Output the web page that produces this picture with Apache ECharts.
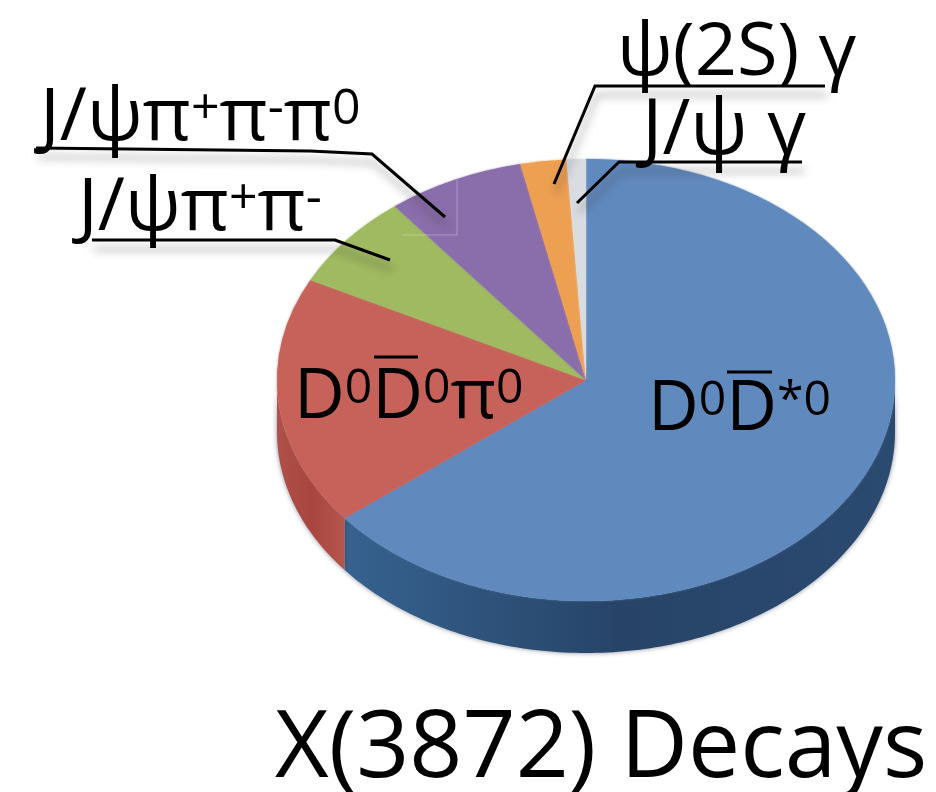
<!DOCTYPE html>
<html><head><meta charset="utf-8">
<style>html,body{margin:0;padding:0;background:#fff}#c{width:936px;height:792px}</style>
<script src="https://cdn.jsdelivr.net/npm/echarts@6/dist/echarts.min.js"></script>
</head><body><div id="c"></div>
<script>
const categories = ["D0D*0","D0D0π0","J/ψπ+π-","J/ψπ+π-π0","ψ(2S)γ","J/ψγ"];
const values = [64.2,18.2,6.9,7.2,2.4,1.0];
const topColors = ["#6089bd","#c7625a","#9fba60","#8a6eab","#eea052","#d9dde2"];
const wallStops = [
  ["#36628f","#274468","#2b4a70"],
  ["#b0504a","#a8453e","#b4564e"],
  ["#7d9648","#7d9648","#7d9648"],
  ["#6a5288","#6a5288","#6a5288"],
  ["#bd7a3a","#bd7a3a","#bd7a3a"],
  ["#aaaaaa","#aaaaaa","#aaaaaa"]
];
const CX=586, CY=380, RX=309, RY=221, DEPTH=52;
const total = values.reduce((a,b)=>a+b,0);
const deg = v => v/total*360;
function range(i){let s=0;for(let k=0;k<i;k++)s+=deg(values[k]);return [s,s+deg(values[i])];}
function pt(a,dy){const r=a*Math.PI/180;return [CX+RX*Math.sin(r),CY-RY*Math.cos(r)+dy];}

function renderTop(params,api){
  const i=api.value(0);const [a,b]=range(i);
  return {type:'sector',x:CX,y:CY,scaleY:RY/RX,
    shape:{cx:0,cy:0,r:RX,r0:0,startAngle:(a-90)*Math.PI/180,endAngle:(b-90)*Math.PI/180},
    style:{fill:topColors[i],shadowBlur:2,shadowColor:topColors[i]}};
}
function renderWall(params,api){
  const i=api.value(0);let [a,b]=range(i);
  a=Math.max(a,90);b=Math.min(b,270);
  if(b<=a)return {type:'group',children:[]};
  const upper=[],lower=[];
  for(let t=a;t<=b+0.001;t+=1){upper.push(pt(t,0));lower.push(pt(t,DEPTH));}
  upper.push(pt(b,0));lower.push(pt(b,DEPTH));
  const pts=upper.concat(lower.reverse());
  const c=wallStops[i];
  return {type:'polygon',shape:{points:pts},
    style:{fill:new echarts.graphic.LinearGradient(0,0,1,0,[{offset:0,color:c[0]},{offset:.5,color:c[1]},{offset:1,color:c[2]}],false),
    shadowBlur:5,shadowColor:'rgba(40,50,70,.55)'}};
}

const F='"Open Sans"';
function txt(x,y,text,size,sup,pad){
  return {type:'text',z:20,x:x,y:y,style:{text:text,fill:'#000',
    font:size+'px '+F,
    rich:{b:{fontFamily:F,fontSize:size,lineHeight:size*1.1,fill:'#000',verticalAlign:'bottom'},
          s:{fontFamily:F,fontSize:sup,lineHeight:sup,padding:[pad,0,0,0],fill:'#000',verticalAlign:'top'}}}};
}
function leader(pts){
  return {type:'polyline',z:15,shape:{points:pts},
    style:{stroke:'#000',lineWidth:3,fill:null,shadowBlur:9,shadowOffsetY:9,shadowOffsetX:2,shadowColor:'rgba(60,50,50,.45)'}};
}
function bar(x1,x2,y){
  return {type:'line',z:21,shape:{x1:x1,y1:y,x2:x2,y2:y},style:{stroke:'#000',lineWidth:3}};
}
const graphics=[
  {type:'polyline',z:12,shape:{points:[[457,180],[457,235],[402,235]]},style:{stroke:'rgba(255,255,255,.3)',lineWidth:1,fill:null}},
  leader([[36,148],[310,151],[372,154],[445,217]]),
  leader([[92,240],[335,240],[390,260]]),
  leader([[825,86],[595,86],[554,184]]),
  leader([[802,162],[619,162],[577,203]]),
  txt(40,75,'{b|J/ψπ}{s|+}{b|π}{s|-}{b|π}{s|0}',74,50,10),
  txt(78,165,'{b|J/ψπ}{s|+}{b|π}{s|-}',74,50,10),
  txt(617,10,'{b|ψ(2S) γ}',74,50,10),
  txt(642,87,'{b|J/ψ γ}',76,50,10),
  txt(294,356,'{b|D}{s|0}{b|D}{s|0}{b|π}{s|0}',70,48,9),
  txt(648,368,'{b|D}{s|0}{b|D}{s|*0}',70,48,9),
  bar(374,418,357),
  bar(727,772,372),
  {type:'text',z:20,x:275,y:704,style:{text:'X(3872) Decays',fill:'#000',font:'93px '+F}}
];
const chart=echarts.init(document.getElementById('c'),null,{renderer:'canvas'});
chart.setOption({
  animation:false,
  backgroundColor:'#fff',
  series:[
    {type:'custom',name:'wall',coordinateSystem:'none',renderItem:renderWall,silent:true,z:1,
     data:values.map((v,i)=>[i,v,categories[i]])},
    {type:'custom',name:'X(3872) Decays',coordinateSystem:'none',renderItem:renderTop,silent:true,z:2,
     data:values.map((v,i)=>[i,v,categories[i]])}
  ],
  graphic:graphics
});
</script></body></html>
